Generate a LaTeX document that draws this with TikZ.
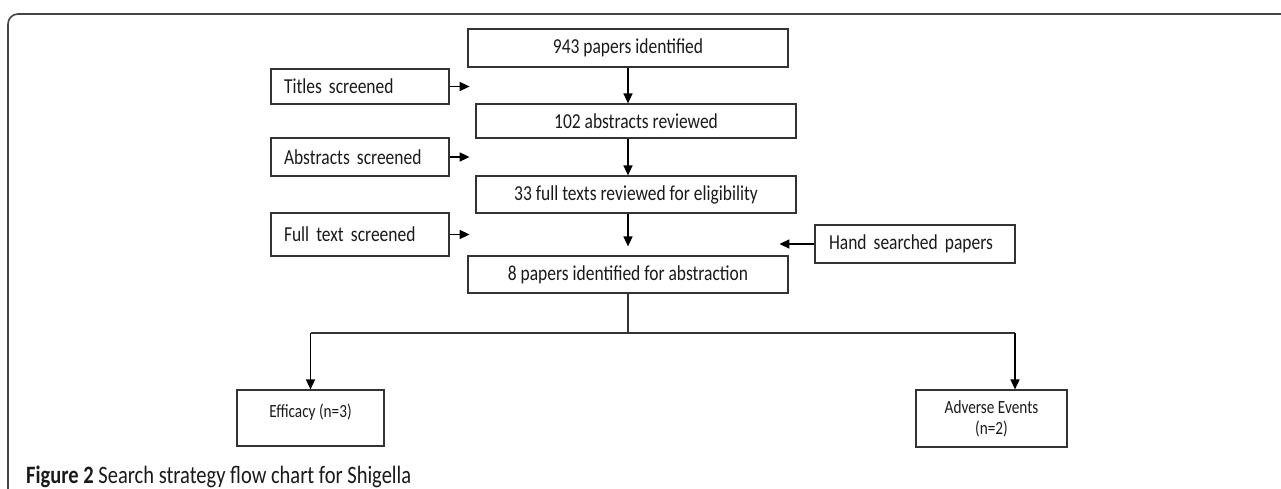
\documentclass[tikz,border=0pt]{standalone}
\usepackage{fontspec}
\setmainfont{Carlito}[FakeStretch=0.82]
\usetikzlibrary{arrows.meta}
\definecolor{boxline}{HTML}{333333}
\definecolor{frameline}{HTML}{444444}
\definecolor{inktext}{HTML}{1A1A1A}

\begin{document}
\begin{tikzpicture}[x=1pt, y=1pt,
  stage/.style={rectangle, draw=boxline, line width=1.2pt, minimum width=320pt,
                inner sep=0pt, font=\fontsize{21.3}{24}\selectfont, text=inktext},
  screen/.style={rectangle, draw=boxline, line width=1.2pt, minimum width=178pt,
                 inner sep=0pt, font=\fontsize{21.3}{24}\selectfont, text=inktext,
                 text width=152pt, align=left},
  result/.style={rectangle, draw=boxline, line width=1.2pt, inner sep=0pt,
                 font=\fontsize{18.6}{21}\selectfont, text=inktext, align=center},
  arrow/.style={-{Triangle[length=10pt, width=9pt]}, line width=1.6pt, draw=black},
  link/.style={line width=1.2pt, draw=boxline},
]
  \useasboundingbox (0,0) rectangle (1281,-489);
  % outer frame, open on the right and bottom
  \draw[frameline, line width=1.6pt, rounded corners=10pt] (8,-489) -- (8,-14) -- (1281,-14);

  % main column
  \node[stage, minimum height=38pt] (ident) at (628,-48)    {943 papers identified};
  \node[stage, minimum height=34pt] (abstr) at (636,-121)   {102 abstracts reviewed};
  \node[stage, minimum height=37pt] (full)  at (636,-194.5) {33 full texts reviewed for eligibility};
  \node[stage, minimum height=37pt] (final) at (628,-274.5) {8 papers identified for abstraction};

  % screening steps
  \node[screen, minimum height=35pt] (titles)  at (360,-86.5) {Titles screened};
  \node[screen, minimum height=38pt] (abscr)   at (360,-157)  {Abstracts screened};
  \node[screen, minimum height=43pt] (fullscr) at (360,-234.5) {Full text screened};
  \node[screen, minimum width=200pt, text width=172pt, minimum height=38pt] (hand) at (915,-244) {Hand searched papers};

  % outcomes
  \node[result, minimum width=147pt, minimum height=56pt, text height=14pt, text depth=16pt] (eff) at (310.5,-418) {Efficacy (n=3)};
  \node[result, minimum width=151pt, minimum height=57pt] (adv) at (991.5,-418.5) {Adverse Events\\(n=2)};

  \coordinate (split) at (628,-333);
  \coordinate (lbranch) at (eff.north |- split);
  \coordinate (rbranch) at (1015,-333);

  \draw[arrow] (ident.south) -- (ident.south |- abstr.north);
  \draw[arrow] (ident.south |- abstr.south) -- (ident.south |- full.north);
  \draw[arrow, shorten >=9pt] (ident.south |- full.south) -- (ident.south |- final.north);

  \draw[arrow] (titles.east)  -- ++(20,0);
  \draw[arrow] (abscr.east)   -- ++(20,0);
  \draw[arrow] (fullscr.east) -- ++(20,0);
  \draw[arrow] (hand.west)    -- ++(-35,0);

  \draw[link] (final.south) -- (split);
  \draw[link] (lbranch) -- (rbranch);
  \draw[arrow] (lbranch) -- (eff.north);
  \draw[arrow] (rbranch) -- (rbranch |- adv.north);

  \node[anchor=west, inner sep=0pt, font=\fontsize{25}{28}\selectfont, text=inktext] (caption) at (26,-477)
    {\textbf{Figure 2} Search strategy flow chart for Shigella};
\end{tikzpicture}
\end{document}
